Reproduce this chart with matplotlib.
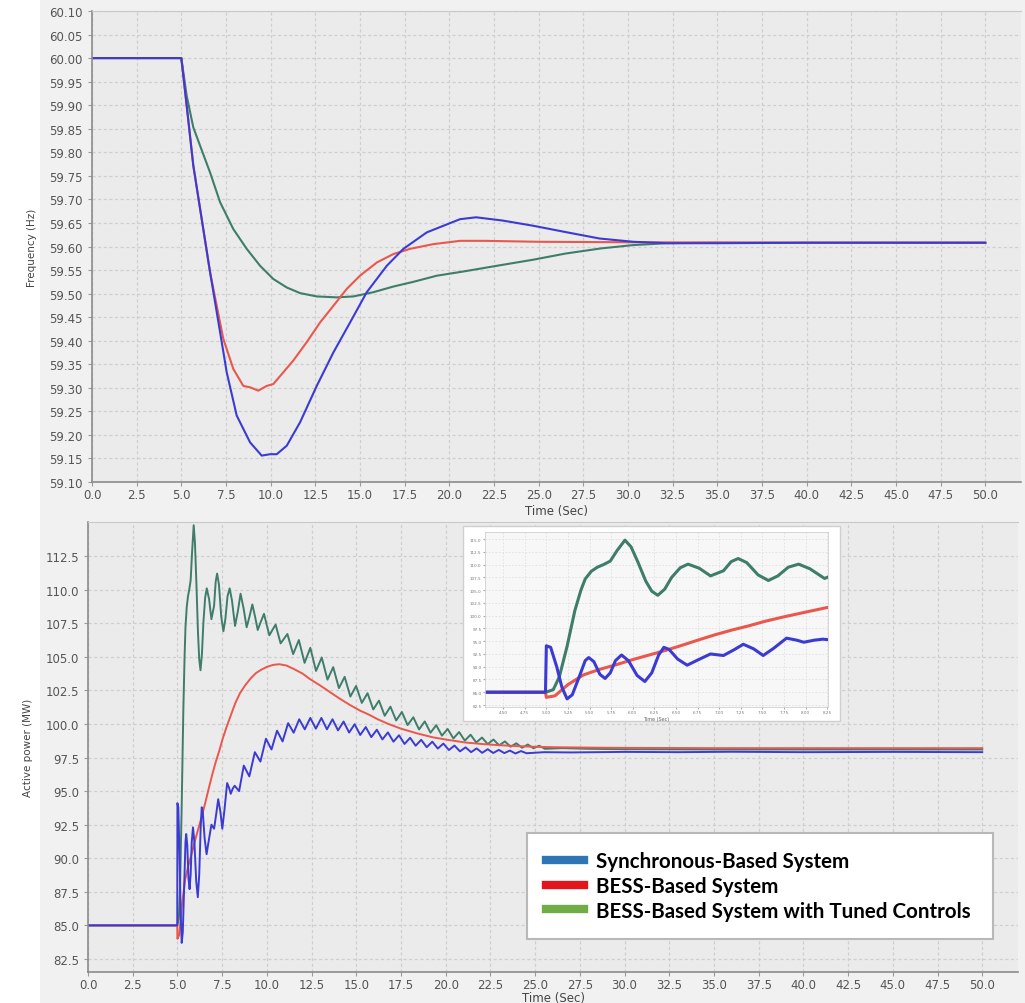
import numpy as np
import matplotlib
matplotlib.use("Agg")
import matplotlib.pyplot as plt
from matplotlib.lines import Line2D
from matplotlib.patches import Rectangle

# ---------------- data: frequency (Hz) ----------------
freq_sync = [(0, 60.0), (5.0, 60.0), (5.30, 59.899), (5.67, 59.772), (6.61, 59.545), (7.17, 59.418),
             (7.54, 59.333), (8.10, 59.241), (8.85, 59.184), (9.50, 59.156), (9.97, 59.159), (10.34, 59.159),
             (10.90, 59.177), (11.65, 59.227), (12.58, 59.304), (13.51, 59.375), (14.45, 59.439),
             (15.38, 59.503), (16.50, 59.559), (17.43, 59.595), (18.74, 59.630), (20.6, 59.658),
             (21.5, 59.662), (23.0, 59.655), (24.7, 59.644), (26.6, 59.630), (28.4, 59.617),
             (30.3, 59.610), (32.2, 59.607), (35, 59.607), (40, 59.608), (45, 59.608), (50, 59.608)]
freq_bess = [(0, 60.0), (5.0, 60.0), (5.30, 59.899), (5.67, 59.772), (6.61, 59.545), (7.35, 59.404),
             (7.91, 59.340), (8.47, 59.304), (8.85, 59.301), (9.31, 59.294), (9.78, 59.304), (10.15, 59.308),
             (10.71, 59.333), (11.27, 59.358), (12.02, 59.397), (12.77, 59.439), (13.51, 59.474),
             (14.26, 59.510), (15.0, 59.538), (15.94, 59.566), (16.87, 59.584), (17.8, 59.595),
             (19.1, 59.605), (20.6, 59.612), (22, 59.612), (25, 59.610), (30, 59.609), (40, 59.608), (50, 59.608)]
freq_tuned = [(0, 60.0), (5.0, 60.0), (5.30, 59.92), (5.67, 59.853), (6.05, 59.814), (6.61, 59.757),
              (7.17, 59.694), (7.91, 59.637), (8.66, 59.595), (9.41, 59.559), (10.15, 59.531), (10.90, 59.513),
              (11.65, 59.501), (12.58, 59.494), (13.70, 59.492), (14.63, 59.494), (15.75, 59.503),
              (16.87, 59.515), (17.99, 59.525), (19.30, 59.538), (20.8, 59.547), (22.5, 59.558),
              (24.7, 59.572), (26.5, 59.585), (28.5, 59.596), (30.3, 59.603), (32.2, 59.607), (35, 59.608),
              (40, 59.608), (50, 59.608)]

# ---------------- data: active power (MW) ----------------
power_sync = [(0, 85), (4.99, 85), (5.0, 94.1), (5.05, 93.8), (5.12, 90.0), (5.18, 86.0), (5.24, 83.7),
              (5.30, 84.5), (5.38, 88.0), (5.45, 91.2), (5.49, 91.8), (5.55, 91.0), (5.62, 88.5), (5.68, 87.7),
              (5.74, 88.8), (5.80, 91.2), (5.87, 92.3), (5.95, 91.2), (6.05, 88.3), (6.14, 87.1), (6.22, 88.8),
              (6.30, 92.3), (6.36, 93.8), (6.42, 93.4), (6.52, 91.5), (6.63, 90.3), (6.75, 91.3), (6.90, 92.5),
              (7.05, 92.2), (7.17, 93.3), (7.28, 94.4), (7.40, 93.5), (7.51, 92.2), (7.63, 93.6), (7.78, 95.6),
              (7.90, 95.2), (7.98, 94.8), (8.1, 95.2), (8.2, 95.4), (8.45, 95.0), (8.71, 96.9), (9.02, 96.1),
              (9.33, 97.9), (9.64, 97.2), (9.95, 98.9), (10.26, 98.1), (10.57, 99.5), (10.88, 98.7),
              (11.19, 100.06), (11.50, 99.35), (11.81, 100.35), (12.12, 99.6), (12.43, 100.45), (12.74, 99.65),
              (13.05, 100.45), (13.36, 99.6), (13.67, 100.35), (13.98, 99.52), (14.29, 100.18), (14.60, 99.36),
              (14.91, 99.98), (15.22, 99.18), (15.53, 99.77), (15.84, 99.02), (16.15, 99.57), (16.46, 98.85),
              (16.77, 99.37), (17.08, 98.68), (17.39, 99.16), (17.70, 98.51), (18.01, 98.97), (18.32, 98.38),
              (18.63, 98.82), (18.94, 98.27), (19.25, 98.68), (19.56, 98.17), (19.87, 98.54), (20.18, 98.06),
              (20.49, 98.39), (20.80, 97.96), (21.11, 98.26), (21.42, 97.9), (21.73, 98.18), (22.04, 97.85),
              (22.35, 98.12), (22.66, 97.84), (22.97, 98.07), (23.28, 97.83), (23.59, 98.02), (23.90, 97.8),
              (24.21, 97.98), (24.52, 97.82), (25.5, 97.9), (27, 97.88), (30, 97.92), (33, 97.9), (36, 97.93),
              (40, 97.9), (45, 97.92), (50, 97.9)]
power_bess = [(0, 85), (4.99, 85), (5.0, 84.0), (5.1, 84.3), (5.25, 86.5), (5.43, 88.4), (5.62, 89.5),
              (5.81, 90.4), (6.0, 91.4), (6.19, 92.3), (6.38, 93.2), (6.57, 94.2), (6.77, 95.3), (6.96, 96.3),
              (7.15, 97.2), (7.34, 98.0), (7.53, 98.9), (7.73, 99.7), (8.0, 100.7), (8.25, 101.6), (8.5, 102.3),
              (8.8, 102.9), (9.1, 103.4), (9.4, 103.8), (9.7, 104.05), (10.0, 104.25), (10.35, 104.4),
              (10.7, 104.45), (11.1, 104.35), (11.5, 104.1), (12.0, 103.75), (12.4, 103.35), (13.0, 102.85),
              (13.5, 102.4), (14.0, 101.95), (14.6, 101.45), (15.2, 101.0), (15.7, 100.7), (16.2, 100.35),
              (16.8, 100.0), (17.5, 99.65), (18.4, 99.3), (19.3, 99.0), (20.2, 98.8), (21.1, 98.62),
              (22.1, 98.5), (23, 98.42), (24, 98.35), (25, 98.3), (26, 98.27), (28, 98.24), (30, 98.22),
              (35, 98.2), (40, 98.2), (45, 98.2), (50, 98.2)]
power_tuned = [(0, 85), (4.99, 85), (5.08, 85.5), (5.15, 88.0), (5.24, 94.0), (5.33, 101.0), (5.40, 105.0),
               (5.45, 107.2), (5.52, 108.7), (5.59, 109.5), (5.66, 110.0), (5.74, 110.7), (5.82, 112.8),
               (5.91, 114.8), (5.98, 113.5), (6.06, 110.5), (6.15, 106.8), (6.22, 104.8), (6.29, 104.0),
               (6.37, 105.2), (6.45, 107.5), (6.55, 109.4), (6.64, 110.1), (6.77, 109.3), (6.90, 107.8),
               (7.05, 108.8), (7.14, 110.6), (7.22, 111.2), (7.32, 110.4), (7.45, 108.0), (7.57, 106.9),
               (7.68, 107.8), (7.80, 109.5), (7.92, 110.1), (8.05, 109.2), (8.22, 107.3), (8.38, 108.4),
               (8.53, 109.7), (8.70, 108.6), (8.87, 107.2), (9.03, 108.0), (9.19, 108.9), (9.34, 108.0),
               (9.49, 107.0), (9.66, 107.6), (9.84, 108.2), (9.99, 107.4), (10.14, 106.6), (10.31, 107.0),
               (10.49, 107.4), (10.63, 106.7), (10.77, 106.0), (10.96, 106.35), (11.15, 106.7), (11.47, 105.2),
               (11.79, 106.25), (12.11, 104.55), (12.43, 105.67), (12.75, 103.95), (13.07, 104.95),
               (13.39, 103.3), (13.71, 104.23), (14.03, 102.67), (14.35, 103.51), (14.67, 102.04),
               (14.99, 102.83), (15.31, 101.57), (15.63, 102.29), (15.95, 101.08), (16.27, 101.74),
               (16.59, 100.61), (16.91, 101.29), (17.23, 100.26), (17.55, 100.89), (17.87, 99.92),
               (18.19, 100.5), (18.51, 99.59), (18.83, 100.19), (19.15, 99.35), (19.47, 99.91),
               (19.79, 99.13), (20.11, 99.63), (20.43, 98.92), (20.75, 99.40), (21.07, 98.76),
               (21.39, 99.20), (21.71, 98.62), (22.03, 98.99), (22.35, 98.50), (22.67, 98.84),
               (22.99, 98.41), (23.31, 98.70), (23.63, 98.31), (23.95, 98.56), (24.27, 98.23),
               (24.59, 98.47), (24.91, 98.19), (25.23, 98.38), (25.55, 98.15), (26.5, 98.2), (28, 98.15),
               (30, 98.12), (35, 98.1), (40, 98.1), (45, 98.1), (50, 98.1)]

series_labels = ["Synchronous-Based System", "BESS-Based System", "BESS-Based System with Tuned Controls"]
x_ticks = np.arange(0, 50.01, 2.5)
freq_ticks = np.arange(59.10, 60.101, 0.05)
power_ticks = np.arange(82.5, 112.51, 2.5)
inset_x_ticks = np.arange(4.5, 8.251, 0.25)
inset_y_ticks = np.arange(82.5, 115.01, 2.5)

# ---------------- styling ----------------
W, H = 1025, 1004
line_colors = ["#3b3bd4", "#ea574d", "#3f7d6b"]
legend_colors = ["#2e75b6", "#e3141c", "#70ad47"]
tick_color = "#555555"
plt.rcParams["font.family"] = ["DejaVu Sans"]

fig = plt.figure(figsize=(W / 100, H / 100), dpi=100, facecolor="white")

def fx(px):
    return px / W

def fy(py):
    return 1 - py / H

fig.add_artist(Rectangle((fx(40), 0), 1 - fx(40), 1, transform=fig.transFigure,
                         facecolor="#f1f1f1", edgecolor="none", zorder=-5))

def style(ax, fs=8.5):
    ax.set_facecolor("#ebebeb")
    ax.grid(True, color="#cfcfcf", linestyle=(0, (2.5, 2)), linewidth=0.9)
    ax.set_axisbelow(True)
    for s in ["left", "bottom"]:
        ax.spines[s].set_color("#8c8c8c")
        ax.spines[s].set_linewidth(1.2)
    ax.spines["top"].set_color("#c8c8c8")
    ax.spines["right"].set_visible(False)
    ax.tick_params(colors="#9a9a9a", labelcolor=tick_color, labelsize=fs, length=3)
    ax.tick_params(axis="x", pad=1.5)

def arr(data):
    a = np.array(data, dtype=float)
    return a[:, 0], a[:, 1]

# ---------------- top: frequency ----------------
ax1 = fig.add_axes([fx(92), fy(483), fx(1021) - fx(92), fy(12) - fy(483)])
style(ax1)
for data, c in zip([freq_tuned, freq_bess, freq_sync], [line_colors[2], line_colors[1], line_colors[0]]):
    t, v = arr(data)
    ax1.plot(t, v, color=c, linewidth=1.5)
ax1.set_xlim(0, 52)
ax1.set_ylim(59.10, 60.10)
ax1.set_xticks(x_ticks)
ax1.set_xticklabels([f"{x:.1f}" for x in x_ticks])
ax1.set_yticks(freq_ticks)
ax1.set_yticklabels([f"{y:.2f}" for y in freq_ticks])
ax1.set_xlabel("Time (Sec)", fontsize=8.5, color="#444444", labelpad=2)
ax1.set_ylabel("Frequency (Hz)", fontsize=7.5, color="#444444", labelpad=9)

# ---------------- bottom: active power ----------------
ax2 = fig.add_axes([fx(88), fy(973), fx(1018) - fx(88), fy(523) - fy(973)])
style(ax2)
for data, c in zip([power_tuned, power_bess, power_sync], [line_colors[2], line_colors[1], line_colors[0]]):
    t, v = arr(data)
    ax2.plot(t, v, color=c, linewidth=1.4)
ax2.set_xlim(0, 52)
ax2.set_ylim(81.53, 115.04)
ax2.set_xticks(x_ticks)
ax2.set_xticklabels([f"{x:.1f}" for x in x_ticks])
ax2.set_yticks(power_ticks)
ax2.set_yticklabels([f"{y:.1f}" for y in power_ticks])
ax2.set_xlabel("Time (Sec)", fontsize=8.5, color="#444444", labelpad=0)
ax2.set_ylabel("Active power (MW)", fontsize=7.5, color="#444444", labelpad=9)

handles = [Line2D([0], [0], color=c, linewidth=6) for c in legend_colors]
lx0 = (527 - 88) / 930
lw_ = (993 - 527) / 930
ly1 = (973 - 834) / 450
leg = ax2.legend(handles, series_labels, loc="upper left", bbox_to_anchor=(lx0, ly1, lw_, 0.0),
                 mode="expand", prop={"family": "Lato", "weight": "bold", "size": 14.8}, frameon=True,
                 fancybox=False, edgecolor="#b8b8b8", facecolor="white", framealpha=1, handlelength=1.85,
                 handletextpad=0.6, labelspacing=0.22, borderpad=0.9, borderaxespad=0)
leg.get_frame().set_linewidth(1.5)

# ---------------- inset ----------------
fig.add_artist(Rectangle((fx(463), fy(722)), fx(840) - fx(463), fy(527) - fy(722), transform=fig.transFigure,
                         facecolor="white", edgecolor="#cfcfcf", linewidth=1.0, zorder=2))
ax3 = fig.add_axes([fx(485), fy(708), fx(828) - fx(485), fy(533) - fy(708)], zorder=3)
ax3.set_facecolor("#f7f7f7")
ax3.grid(True, color="#e0e0e0", linestyle=(0, (2, 2)), linewidth=0.6)
ax3.set_axisbelow(True)
for s in ax3.spines.values():
    s.set_color("#d0d0d0")
    s.set_linewidth(0.6)
ax3.tick_params(colors="#aaaaaa", labelcolor="#777777", labelsize=3, length=1.5, pad=1)
for data, c in zip([power_tuned, power_bess, power_sync], [line_colors[2], line_colors[1], line_colors[0]]):
    t, v = arr(data)
    ax3.plot(t, v, color=c, linewidth=2.2, solid_joinstyle="round")
ax3.set_xlim(4.29, 8.26)
ax3.set_ylim(82.11, 116.4)
ax3.set_xticks(inset_x_ticks)
ax3.set_xticklabels([f"{x:.2f}" for x in inset_x_ticks])
ax3.set_yticks(inset_y_ticks)
ax3.set_yticklabels([f"{y:.1f}" for y in inset_y_ticks])
ax3.set_xlabel("Time (Sec)", fontsize=3.5, color="#666666", labelpad=1)

fig.savefig("out.png", dpi=100, facecolor=fig.get_facecolor())
